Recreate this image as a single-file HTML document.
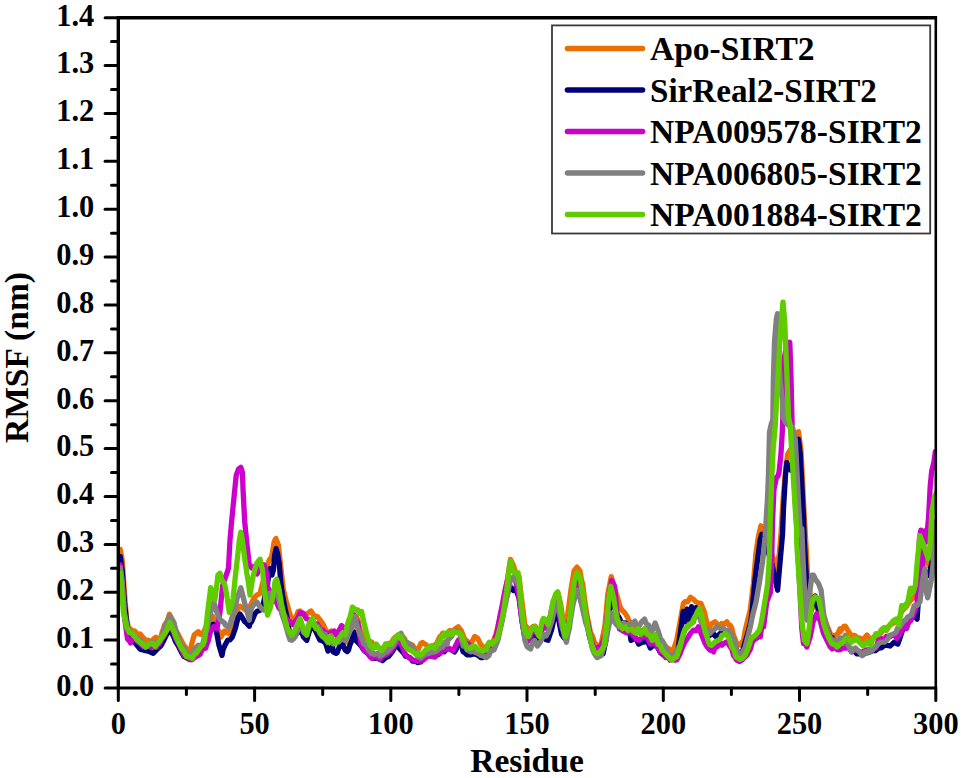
<!DOCTYPE html>
<html><head><meta charset="utf-8"><title>RMSF</title>
<style>html,body{margin:0;padding:0;background:#fff;overflow:hidden}body{width:962px;height:778px;font-family:"Liberation Serif",serif}</style>
</head><body>
<svg width="962" height="778" viewBox="0 0 962 778" style="display:block">
<rect width="962" height="778" fill="#fff"/>
<defs><clipPath id="pc"><rect x="118.3" y="0" width="817.5" height="688.0"/></clipPath></defs>
<g clip-path="url(#pc)"><path d="M120.3,549.5 L122.3,560.8 L124.4,591.7 L126.5,618.6 L128.4,627.2 L131.9,630.2 L133.3,631.5 L134.7,631.0 L138.5,635.3 L140.1,634.0 L143.6,638.2 L145.6,640.0 L148.8,640.3 L151.8,642.5 L153.7,638.8 L155.9,637.2 L160.3,640.3 L161.9,633.2 L163.3,629.1 L164.6,625.0 L167.3,621.1 L169.4,614.3 L173.7,622.5 L175.5,629.7 L177.8,633.8 L182.0,642.0 L183.7,645.2 L186.0,648.2 L190.2,651.3 L191.9,643.2 L194.3,634.8 L198.4,631.7 L200.1,634.2 L202.5,634.8 L205.5,627.8 L208.7,620.4 L210.9,619.0 L212.8,616.3 L216.9,628.7 L219.1,631.5 L221.0,636.9 L224.6,631.0 L225.1,632.8 L227.3,631.3 L229.3,634.0 L232.8,624.0 L235.4,615.5 L238.2,607.6 L240.1,606.3 L244.7,609.4 L246.4,610.7 L250.0,606.8 L251.8,602.2 L254.6,597.1 L256.7,595.2 L260.0,593.5 L263.4,580.1 L265.4,573.4 L266.7,566.8 L269.2,560.1 L271.7,556.7 L274.2,541.7 L275.9,538.4 L278.4,545.1 L280.9,568.4 L283.4,590.1 L284.5,593.6 L285.9,600.2 L287.2,604.6 L289.2,611.9 L292.6,621.9 L295.9,616.9 L298.1,611.6 L300.1,611.0 L303.4,613.5 L306.3,614.9 L307.6,613.5 L309.1,612.3 L311.0,611.0 L315.1,616.9 L317.2,616.4 L320.1,620.2 L322.7,623.6 L324.3,626.9 L325.4,629.5 L328.5,633.6 L330.0,631.7 L331.1,631.0 L333.1,634.8 L337.2,632.5 L337.7,637.9 L339.0,640.3 L342.3,639.4 L345.4,642.5 L347.2,636.4 L349.9,632.5 L351.6,628.6 L356.2,616.3 L358.1,620.5 L359.3,627.1 L360.8,631.8 L363.9,636.3 L366.3,637.8 L369.0,641.2 L370.1,644.0 L371.7,642.0 L373.2,644.0 L374.5,647.2 L377.8,647.1 L379.9,648.4 L382.4,648.6 L385.4,647.9 L387.1,644.0 L391.7,642.5 L393.5,638.9 L396.3,636.3 L399.0,636.2 L401.0,634.8 L404.4,638.4 L405.6,642.5 L407.2,643.6 L410.2,644.0 L412.6,645.1 L414.8,648.6 L417.9,650.2 L420.8,643.7 L422.5,642.5 L427.2,645.6 L429.0,647.4 L431.8,647.1 L434.4,645.1 L436.4,644.0 L440.0,636.4 L441.0,636.3 L442.6,633.2 L443.9,634.5 L445.7,634.8 L448.0,632.2 L449.6,630.6 L450.8,630.9 L453.5,630.5 L455.4,628.7 L458.3,626.8 L461.2,630.6 L465.1,640.3 L467.1,641.0 L468.9,644.1 L471.8,642.2 L474.7,636.4 L477.6,638.3 L480.5,644.1 L484.3,648.0 L486.2,647.7 L488.2,644.1 L492.1,644.1 L494.4,638.0 L495.9,634.5 L497.1,629.7 L499.8,619.1 L502.5,606.5 L503.6,601.7 L505.2,593.0 L507.5,578.5 L510.4,559.3 L513.3,565.1 L516.2,574.7 L519.1,576.6 L521.0,594.0 L524.9,624.8 L527.0,627.4 L528.7,630.6 L532.6,626.8 L535.2,626.1 L536.4,628.7 L538.0,630.3 L540.3,630.6 L544.1,621.0 L546.1,622.8 L548.0,622.9 L551.9,611.3 L554.3,599.7 L555.7,595.9 L557.7,592.1 L560.6,603.6 L563.5,622.9 L565.2,620.0 L567.4,617.1 L571.2,588.2 L574.1,570.8 L577.0,567.0 L579.9,570.8 L581.5,579.7 L582.8,584.3 L584.3,596.7 L586.6,613.3 L590.5,632.6 L592.5,636.2 L594.4,642.2 L597.2,646.1 L601.1,644.1 L603.4,633.6 L605.0,624.8 L606.1,613.0 L607.8,594.0 L611.3,576.6 L614.6,588.2 L617.5,597.8 L619.7,605.5 L621.4,609.4 L625.2,613.3 L627.9,618.0 L629.1,621.0 L630.6,622.2 L632.9,626.8 L636.8,628.7 L638.8,630.6 L640.7,630.6 L644.5,630.6 L646.9,633.9 L648.4,632.6 L649.7,630.9 L652.2,634.5 L656.1,636.4 L657.9,636.8 L660.6,644.7 L661.9,644.1 L663.3,644.6 L665.7,646.1 L666.7,647.7 L668.8,648.4 L670.0,650.2 L671.5,650.7 L673.4,650.2 L676.7,640.2 L680.1,621.8 L683.4,603.4 L685.1,601.7 L687.6,601.8 L690.5,597.2 L691.7,598.4 L693.3,599.2 L695.9,601.8 L698.7,603.2 L700.9,603.4 L704.3,611.8 L706.9,622.7 L708.5,626.8 L709.6,626.8 L711.8,623.5 L715.1,621.8 L718.5,625.2 L720.5,625.8 L721.8,623.5 L723.2,624.9 L726.8,621.8 L728.7,625.1 L730.2,625.2 L731.4,627.3 L733.5,635.2 L736.8,643.5 L740.2,645.2 L742.3,641.9 L743.6,640.2 L745.0,631.2 L746.9,623.5 L750.2,610.1 L753.4,583.5 L755.9,553.4 L758.4,536.7 L760.9,525.8 L763.4,531.7 L767.6,545.1 L769.6,547.7 L772.6,556.8 L775.0,562.0 L776.8,568.4 L779.3,553.4 L781.0,533.4 L783.5,493.6 L786.0,466.8 L787.6,454.3 L790.1,450.1 L791.4,449.0 L792.7,443.4 L794.1,437.1 L796.0,433.4 L798.5,431.8 L801.0,450.1 L802.7,483.6 L804.3,517.0 L806.0,545.1 L807.7,578.5 L810.2,595.2 L813.2,604.1 L815.2,606.9 L818.6,610.1 L820.2,613.5 L821.4,613.4 L824.1,617.9 L825.2,620.3 L826.8,624.9 L830.3,633.6 L832.2,636.3 L835.3,635.3 L837.7,633.9 L840.0,628.7 L840.3,631.9 L843.9,626.3 L845.3,626.2 L847.7,630.2 L851.6,635.9 L854.0,635.3 L855.4,635.9 L856.8,637.8 L859.3,637.9 L863.1,639.8 L864.9,637.4 L867.0,635.0 L870.8,640.3 L873.1,639.1 L874.7,636.4 L875.9,637.4 L878.5,634.5 L881.3,632.7 L882.4,630.6 L884.0,628.7 L886.3,628.7 L890.1,624.8 L892.2,623.9 L894.0,622.9 L897.8,621.0 L900.4,615.1 L901.7,611.3 L903.1,610.0 L905.6,607.5 L909.4,601.7 L911.3,599.6 L913.3,597.8 L917.1,594.0 L919.4,575.5 L922.2,564.2 L923.5,558.7 L924.9,560.6 L926.8,562.6 L929.3,565.9 L930.4,558.4 L931.7,553.9 L933.9,539.6 L935.8,530.0" fill="none" stroke="#eb6f00" stroke-width="5.3" stroke-linejoin="round" stroke-linecap="round"/><path d="M120.3,556.7 L122.3,571.1 L124.4,602.0 L127.5,628.7 L129.2,633.6 L130.6,634.8 L131.9,636.3 L134.7,642.3 L136.7,644.9 L140.1,649.2 L142.9,650.0 L145.6,650.6 L149.1,651.3 L151.0,652.3 L153.2,653.3 L157.3,649.2 L159.2,647.4 L161.4,645.1 L165.5,636.9 L167.3,633.4 L169.6,628.7 L173.7,636.9 L175.5,641.6 L177.8,645.1 L182.0,653.3 L183.7,656.3 L186.0,657.5 L190.2,659.5 L191.9,657.7 L194.3,657.5 L198.4,651.3 L200.1,649.6 L202.5,645.1 L205.5,638.3 L206.6,636.9 L208.2,630.7 L210.7,624.6 L213.7,624.3 L214.8,626.6 L216.4,631.6 L218.9,645.1 L222.0,655.4 L223.1,649.5 L225.1,645.1 L227.7,640.2 L230.0,639.9 L232.3,637.1 L235.5,627.9 L237.0,621.7 L238.2,617.5 L240.1,614.0 L244.7,621.7 L246.4,623.0 L249.3,626.3 L250.0,623.5 L251.8,621.3 L255.0,613.5 L257.3,611.2 L260.0,610.2 L263.4,603.5 L265.4,593.4 L266.7,590.1 L268.7,575.1 L270.4,568.4 L272.0,575.1 L273.4,570.1 L274.7,555.1 L276.1,548.7 L277.5,553.4 L279.2,563.4 L280.9,583.5 L282.6,595.2 L285.1,608.5 L287.6,620.2 L290.1,636.9 L293.4,638.6 L295.4,634.0 L296.8,633.6 L298.1,632.2 L300.1,626.9 L303.4,636.9 L306.8,640.3 L310.1,628.6 L311.8,628.7 L313.5,626.9 L316.8,633.6 L319.9,640.1 L321.8,640.3 L325.4,642.8 L326.8,646.9 L328.0,651.0 L330.0,648.6 L332.6,646.4 L333.1,651.8 L336.2,653.3 L337.2,652.6 L339.2,647.1 L342.3,644.0 L345.4,650.2 L347.2,651.6 L348.5,650.2 L349.9,644.9 L351.6,640.9 L353.9,631.7 L356.2,640.9 L358.1,642.7 L359.3,644.0 L360.8,645.6 L363.9,650.2 L366.3,652.4 L369.0,653.7 L370.1,656.4 L371.7,656.3 L374.5,658.4 L376.3,657.9 L380.9,659.5 L382.6,660.7 L385.5,657.9 L388.6,656.4 L390.8,653.6 L393.3,650.2 L396.2,644.2 L397.9,644.0 L399.0,648.0 L401.0,650.2 L404.4,654.0 L405.6,656.4 L407.2,656.3 L410.2,657.9 L412.6,661.1 L414.8,661.0 L417.9,662.5 L420.8,662.0 L422.5,659.5 L427.2,656.4 L429.0,655.5 L431.8,656.4 L434.4,656.0 L438.0,654.8 L440.0,651.9 L442.6,651.0 L443.9,649.9 L444.2,651.8 L445.3,650.7 L447.7,648.0 L451.6,649.9 L454.5,651.9 L456.2,649.1 L457.3,644.1 L459.3,640.3 L461.7,646.4 L463.1,651.9 L464.4,652.4 L467.0,654.8 L470.9,654.8 L472.6,654.2 L474.7,653.8 L478.6,655.7 L480.7,657.6 L482.4,657.6 L486.3,655.7 L488.9,651.6 L490.2,651.9 L491.6,648.8 L494.0,648.0 L497.9,636.4 L499.8,628.5 L501.7,621.0 L505.6,599.8 L508.0,592.1 L509.4,584.3 L510.7,588.2 L512.3,589.2 L513.4,590.5 L515.2,588.2 L519.1,597.8 L522.0,621.0 L524.9,638.3 L527.0,641.5 L528.7,640.3 L532.6,636.4 L535.2,637.0 L536.4,638.3 L538.0,638.1 L540.3,638.3 L544.1,636.4 L546.1,639.8 L548.0,640.3 L551.9,628.7 L554.3,617.0 L555.7,613.3 L557.7,613.3 L559.6,624.8 L561.6,634.5 L564.5,638.3 L568.3,626.8 L570.6,613.7 L572.2,605.6 L573.4,598.3 L576.0,584.3 L578.9,580.5 L581.8,594.0 L584.3,607.9 L585.7,617.1 L587.0,622.8 L589.5,636.4 L593.4,649.9 L595.2,651.9 L598.2,655.7 L600.6,652.4 L603.1,653.8 L605.9,640.3 L608.8,613.3 L611.7,595.9 L614.2,606.8 L616.5,613.3 L619.7,618.7 L621.4,622.9 L625.2,622.9 L627.9,625.1 L629.1,628.7 L631.0,640.3 L633.3,639.2 L634.9,638.3 L636.0,638.6 L638.7,644.1 L642.6,642.2 L644.2,642.1 L646.4,638.3 L650.3,648.0 L652.4,646.3 L654.1,644.1 L658.0,648.0 L660.6,652.9 L661.9,653.8 L663.3,655.0 L665.7,655.7 L668.3,656.9 L671.5,656.0 L673.4,656.9 L676.9,651.5 L678.4,646.9 L679.6,638.2 L681.0,628.2 L683.2,611.4 L685.1,621.9 L687.3,609.0 L689.5,619.5 L691.6,606.6 L693.8,617.1 L696.0,607.6 L698.7,613.8 L701.4,621.0 L704.2,630.5 L706.8,631.8 L710.1,635.2 L712.4,632.4 L713.5,633.5 L715.1,636.1 L716.8,636.9 L720.1,633.5 L723.5,631.8 L726.0,633.6 L728.5,631.8 L731.4,636.3 L733.5,643.5 L736.9,650.0 L738.5,653.6 L741.9,653.6 L745.2,641.9 L748.6,630.2 L750.5,622.7 L751.9,613.5 L753.2,598.5 L755.1,578.5 L758.4,553.4 L760.1,540.1 L761.8,534.2 L764.3,538.4 L767.6,548.4 L769.6,557.2 L771.8,563.4 L775.1,578.5 L777.6,590.2 L780.1,561.8 L782.6,533.4 L783.5,508.6 L785.5,475.2 L786.8,462.6 L788.5,466.8 L791.0,470.2 L793.5,463.5 L796.0,450.1 L798.5,439.3 L800.2,453.5 L801.8,483.6 L803.5,517.0 L804.3,540.1 L806.0,570.1 L807.7,606.9 L810.2,613.5 L813.5,600.2 L815.2,596.0 L817.7,606.9 L821.1,616.9 L824.1,625.8 L825.2,627.0 L826.8,628.9 L830.3,637.0 L832.2,637.8 L835.0,641.1 L838.6,643.7 L840.4,642.7 L843.1,641.1 L845.3,640.3 L847.7,646.0 L851.6,651.8 L854.0,651.4 L855.4,650.8 L856.8,653.8 L859.3,653.8 L863.1,654.7 L864.9,652.5 L867.0,652.8 L870.8,651.8 L873.1,649.9 L874.7,650.8 L875.9,650.4 L878.5,648.0 L881.3,647.8 L882.4,647.0 L884.0,645.7 L886.3,645.1 L890.1,646.0 L892.2,644.1 L894.0,642.2 L897.8,644.1 L900.4,636.9 L901.7,632.6 L903.1,628.6 L905.6,626.8 L909.4,621.0 L911.3,616.2 L913.3,615.2 L917.1,619.1 L919.4,585.1 L922.2,575.6 L923.5,568.3 L924.9,571.9 L926.8,573.1 L929.3,575.5 L930.4,568.8 L931.7,563.5 L933.9,546.8 L935.8,532.4" fill="none" stroke="#000078" stroke-width="5.3" stroke-linejoin="round" stroke-linecap="round"/><path d="M120.3,565.0 L122.3,583.4 L124.4,616.3 L127.5,638.9 L129.2,640.4 L130.6,643.0 L131.9,638.8 L133.3,637.3 L134.7,638.6 L137.4,641.5 L140.1,643.7 L141.5,644.9 L142.8,646.3 L145.6,647.4 L148.3,644.2 L149.6,646.2 L151.0,647.5 L153.7,647.0 L156.4,647.3 L157.8,644.9 L159.2,644.1 L161.9,639.2 L164.6,635.3 L166.0,631.6 L167.3,629.7 L169.5,624.3 L173.6,632.2 L175.5,638.0 L178.0,642.9 L182.1,651.0 L183.7,654.8 L186.4,656.1 L189.2,659.1 L190.5,659.3 L191.9,659.8 L193.5,658.5 L194.6,657.5 L198.4,655.4 L200.1,654.3 L202.5,649.2 L205.5,648.3 L206.6,645.1 L208.2,640.9 L210.7,630.7 L213.8,626.6 L216.9,628.7 L220.0,612.2 L222.6,585.5 L224.6,579.5 L227.3,572.0 L228.5,568.0 L230.0,540.2 L231.6,521.7 L232.8,509.4 L233.9,498.5 L236.2,475.4 L238.5,469.2 L240.8,467.4 L242.4,472.4 L243.1,490.8 L244.7,521.7 L247.0,544.8 L249.3,564.9 L251.6,568.0 L253.9,566.4 L257.0,574.1 L260.1,568.0 L262.7,564.4 L264.0,564.9 L266.3,571.1 L267.8,587.7 L270.9,592.4 L273.6,597.3 L275.5,600.1 L279.1,608.2 L281.7,610.9 L284.5,614.8 L287.9,621.7 L290.0,621.5 L292.7,624.6 L294.0,624.8 L295.4,621.3 L298.1,617.5 L300.2,612.4 L303.6,613.8 L306.4,618.6 L309.1,619.7 L312.5,624.8 L314.5,623.9 L317.2,623.8 L318.7,626.3 L319.9,628.8 L322.7,630.1 L324.9,632.5 L328.0,634.0 L330.0,633.2 L333.1,631.7 L334.1,631.0 L336.2,634.8 L339.2,630.2 L341.6,625.5 L344.7,628.6 L347.2,631.6 L348.5,634.8 L349.9,628.1 L352.6,619.9 L353.9,614.7 L355.4,619.4 L357.8,622.5 L360.9,644.0 L363.9,650.2 L366.3,651.9 L368.6,654.8 L371.7,658.3 L373.2,657.2 L374.5,656.4 L377.8,657.9 L379.9,659.6 L382.4,656.4 L385.4,655.1 L387.1,654.1 L391.7,650.2 L393.5,647.3 L396.3,642.5 L398.6,640.2 L402.5,647.1 L404.4,652.8 L407.1,656.4 L409.9,658.3 L411.8,659.5 L416.4,661.0 L418.1,661.0 L421.0,661.0 L423.5,660.0 L425.6,657.9 L429.0,655.2 L431.8,656.4 L434.9,657.2 L437.1,653.9 L440.0,653.8 L441.0,651.8 L442.6,648.9 L443.9,649.9 L445.3,650.0 L447.2,647.1 L447.7,648.0 L451.6,649.9 L453.5,650.3 L455.4,646.1 L458.3,640.3 L461.2,638.3 L465.1,642.2 L467.1,643.8 L468.9,644.1 L472.8,648.0 L475.3,652.3 L476.6,651.9 L478.0,651.5 L480.5,653.8 L484.3,653.8 L486.2,653.1 L488.2,649.9 L492.1,648.0 L494.4,642.9 L495.9,636.4 L497.1,631.8 L499.8,617.1 L502.5,603.9 L503.6,597.8 L505.2,589.5 L507.5,580.5 L511.4,578.5 L513.4,578.7 L515.2,578.5 L519.1,597.8 L522.0,621.0 L524.9,636.4 L527.0,639.6 L528.7,640.3 L532.6,630.6 L535.2,631.1 L536.4,632.6 L538.0,635.5 L540.3,634.5 L544.1,624.8 L546.1,628.2 L548.0,628.7 L551.9,607.5 L554.3,600.5 L555.7,597.8 L557.7,607.5 L559.8,616.5 L561.6,626.8 L565.4,634.5 L567.9,627.7 L569.3,621.0 L570.6,613.9 L573.2,597.8 L577.0,584.3 L578.9,588.2 L581.5,594.7 L582.8,597.8 L584.3,604.6 L586.6,617.1 L590.5,636.4 L592.5,644.6 L594.4,648.0 L597.2,648.0 L601.1,646.1 L603.4,640.1 L605.9,632.6 L608.8,597.8 L611.7,580.5 L614.6,586.3 L617.5,617.1 L619.4,628.7 L622.3,630.6 L626.2,632.6 L627.9,633.0 L631.0,630.6 L633.3,636.1 L634.9,636.4 L636.0,639.2 L638.7,640.3 L642.6,636.4 L644.2,636.6 L646.4,634.5 L650.3,644.1 L652.4,643.3 L654.1,642.2 L658.0,648.0 L660.6,652.4 L661.9,651.9 L663.3,653.4 L665.7,657.6 L668.8,657.6 L670.0,660.2 L671.5,659.3 L675.0,660.2 L676.9,659.8 L680.1,653.6 L682.4,647.5 L685.1,641.9 L688.4,636.9 L690.5,633.3 L693.4,630.2 L696.0,630.8 L698.4,626.8 L701.8,635.2 L705.1,643.5 L706.9,646.5 L710.1,650.2 L712.4,650.6 L713.5,651.9 L715.1,647.3 L716.8,646.9 L720.5,643.6 L721.8,645.2 L723.2,643.9 L726.8,641.9 L728.7,644.2 L730.2,646.9 L731.4,647.8 L733.5,655.3 L736.8,660.2 L739.6,661.6 L741.9,660.2 L745.0,657.0 L746.9,655.3 L750.5,648.9 L751.9,643.5 L753.2,640.6 L756.1,638.5 L758.7,636.8 L760.3,636.9 L761.4,629.1 L763.4,613.5 L763.6,626.8 L766.8,601.9 L770.5,592.2 L771.5,568.3 L772.6,520.4 L774.0,489.3 L776.5,477.3 L777.8,476.4 L779.0,472.5 L781.0,453.4 L782.3,431.8 L783.0,410.3 L783.3,376.8 L784.0,360.0 L786.0,348.1 L788.6,343.9 L789.8,342.3 L791.0,376.8 L792.0,419.9 L793.0,463.0 L795.0,496.5 L797.0,530.0 L798.5,563.5 L800.0,592.2 L801.8,628.6 L803.5,643.7 L805.0,643.9 L806.9,647.0 L810.2,637.0 L813.5,620.3 L816.9,613.5 L818.6,618.8 L820.2,620.3 L821.4,625.6 L823.6,633.6 L826.8,640.0 L830.3,647.0 L832.2,648.9 L835.0,646.9 L836.9,649.5 L840.0,649.9 L843.1,647.8 L845.8,648.0 L848.6,646.7 L851.6,649.9 L854.0,649.8 L856.8,650.3 L859.3,651.8 L862.2,652.1 L864.9,650.4 L867.0,649.9 L870.4,649.4 L873.1,648.5 L874.7,648.0 L875.9,647.8 L878.5,640.3 L881.3,638.6 L882.4,640.3 L884.0,640.3 L886.3,636.4 L890.1,636.4 L892.2,635.6 L894.0,634.5 L896.9,638.3 L899.8,634.5 L903.6,624.8 L906.5,628.7 L908.5,622.5 L910.4,621.0 L913.3,615.2 L917.1,603.6 L919.4,538.7 L920.9,530.2 L921.0,588.2 L922.2,570.1 L924.8,531.0 L926.3,541.8 L928.6,517.1 L930.2,486.2 L931.7,470.8 L934.0,461.6 L935.3,451.6" fill="none" stroke="#cc00cc" stroke-width="5.3" stroke-linejoin="round" stroke-linecap="round"/><path d="M120.3,568.0 L122.3,583.4 L124.4,612.2 L127.5,628.7 L129.2,629.0 L130.6,632.8 L131.9,633.1 L133.3,635.2 L134.7,635.3 L137.4,639.3 L140.1,639.7 L141.5,642.8 L142.8,644.8 L145.6,645.3 L148.3,643.8 L149.6,644.0 L151.0,642.4 L153.7,644.9 L156.4,641.7 L157.8,642.8 L159.2,640.5 L161.9,637.0 L165.5,624.4 L167.3,622.3 L169.6,616.2 L173.7,622.4 L175.5,629.1 L177.8,636.9 L182.0,647.2 L183.7,647.0 L186.0,652.3 L190.2,654.3 L191.9,654.1 L194.3,649.2 L198.4,645.1 L200.1,646.0 L202.5,645.1 L205.5,632.5 L206.6,630.7 L208.2,623.7 L210.7,612.2 L213.8,602.0 L216.9,612.2 L219.1,618.1 L221.0,620.4 L224.6,623.2 L225.1,624.6 L227.3,626.4 L229.3,626.3 L232.8,615.1 L233.9,614.0 L235.5,606.9 L237.0,598.6 L238.2,595.5 L240.8,587.7 L244.7,603.2 L246.4,608.8 L249.3,620.2 L250.0,613.5 L251.8,607.5 L253.4,605.2 L254.6,604.0 L256.7,601.8 L260.0,606.8 L263.4,610.2 L265.4,610.1 L266.7,606.8 L269.2,593.5 L271.7,593.5 L274.2,591.8 L276.7,590.1 L279.2,600.2 L281.7,613.5 L285.1,623.5 L287.2,630.8 L288.4,635.2 L290.0,639.8 L291.7,640.3 L295.1,636.9 L298.4,628.6 L301.8,626.9 L303.6,632.5 L305.1,633.6 L306.3,632.0 L308.5,625.2 L311.8,620.2 L315.1,625.2 L317.2,626.4 L320.1,630.2 L322.7,633.8 L325.4,634.6 L326.8,636.9 L328.1,640.8 L330.0,642.5 L331.1,635.6 L333.1,644.0 L337.2,640.2 L337.7,640.9 L339.0,641.9 L342.3,637.9 L344.5,640.2 L347.0,637.9 L349.9,631.0 L351.6,628.6 L354.7,616.3 L357.8,628.6 L360.9,636.3 L363.9,644.0 L366.3,645.5 L368.6,650.2 L371.7,653.7 L373.2,653.3 L374.5,654.5 L377.8,653.3 L379.9,656.3 L382.4,654.8 L385.4,652.2 L387.1,651.8 L391.7,647.1 L393.5,645.0 L396.3,639.4 L399.0,637.6 L401.0,633.2 L404.0,640.9 L407.2,642.3 L408.7,644.0 L409.9,644.8 L413.3,648.6 L415.3,652.3 L417.9,656.4 L420.8,658.1 L422.5,656.4 L426.2,653.9 L428.7,653.3 L431.7,652.3 L434.9,651.8 L437.1,650.4 L440.0,648.0 L441.0,647.1 L442.6,647.1 L443.9,644.1 L445.3,642.0 L447.2,644.0 L447.7,640.3 L451.6,636.4 L453.5,631.8 L455.4,630.6 L459.3,632.6 L461.7,639.9 L463.1,646.1 L464.4,644.9 L467.0,649.9 L470.9,651.9 L472.6,651.5 L474.7,651.9 L478.6,653.8 L480.7,655.6 L482.4,655.7 L486.3,657.6 L488.9,655.6 L490.2,651.9 L491.6,650.6 L494.0,649.9 L497.9,640.3 L499.8,631.5 L501.7,622.9 L505.6,603.6 L508.0,591.9 L509.4,584.3 L510.7,579.4 L512.3,578.5 L513.4,576.9 L515.2,578.5 L519.1,586.3 L522.0,617.1 L524.9,640.3 L527.0,646.5 L528.7,648.0 L530.6,649.0 L532.5,643.0 L534.5,640.3 L537.4,646.1 L540.3,642.2 L544.1,634.5 L546.1,635.9 L548.0,632.6 L551.9,621.0 L554.3,609.3 L555.7,603.6 L557.7,603.6 L560.6,617.1 L562.5,627.4 L564.5,636.4 L566.4,642.2 L567.9,634.0 L569.3,628.7 L570.6,618.8 L573.2,603.6 L577.0,590.1 L578.9,594.0 L581.8,605.6 L584.3,616.4 L585.7,622.9 L587.0,626.4 L590.5,640.3 L592.5,649.3 L594.4,653.8 L597.2,657.6 L601.1,655.7 L603.4,648.2 L605.0,644.1 L606.1,640.8 L607.8,630.6 L611.7,613.3 L613.7,621.0 L616.5,624.8 L619.4,626.8 L623.3,622.9 L625.1,624.1 L627.1,624.8 L631.0,622.9 L633.3,622.6 L634.9,621.0 L636.0,624.9 L638.7,626.8 L641.5,621.9 L644.5,619.1 L646.9,624.7 L648.4,624.8 L649.7,628.0 L652.2,630.6 L655.1,622.9 L658.0,630.6 L660.6,639.1 L661.9,640.3 L663.3,642.4 L665.7,648.0 L668.3,653.6 L671.5,656.6 L673.4,656.9 L676.7,650.2 L679.6,646.1 L681.8,639.3 L685.1,629.6 L688.4,625.3 L691.6,623.1 L693.3,622.2 L694.9,616.7 L696.0,615.8 L697.6,611.2 L698.7,613.9 L701.4,623.0 L702.6,623.5 L704.2,628.3 L706.8,630.2 L710.1,633.5 L712.4,630.5 L713.5,630.2 L715.1,628.4 L716.8,626.8 L720.1,628.5 L723.5,628.5 L726.0,631.1 L728.5,630.2 L731.4,635.9 L733.5,638.5 L736.9,650.4 L738.5,653.6 L741.9,653.6 L745.2,646.9 L748.6,633.5 L750.5,626.1 L752.7,615.1 L756.1,601.8 L759.2,583.5 L761.4,569.7 L762.6,561.8 L765.1,536.7 L767.6,496.5 L768.5,472.5 L769.5,431.8 L771.5,423.2 L772.8,419.9 L773.3,381.6 L774.5,341.4 L776.3,319.3 L777.5,313.6 L778.3,333.7 L779.0,362.4 L780.5,384.0 L782.3,398.3 L783.2,417.5 L785.5,422.3 L788.6,425.3 L790.0,424.7 L791.4,427.4 L792.5,427.1 L795.2,439.0 L797.0,472.5 L798.7,506.1 L800.5,534.8 L801.8,528.7 L803.5,570.1 L805.2,603.5 L806.9,620.3 L809.4,595.2 L810.4,587.1 L811.9,575.2 L813.5,575.2 L816.0,580.1 L818.5,583.5 L821.1,590.2 L823.6,613.5 L826.9,628.6 L829.5,635.7 L831.9,640.3 L835.0,640.0 L838.6,640.3 L840.4,637.8 L843.9,638.3 L845.3,635.3 L847.7,644.1 L851.6,651.8 L854.0,648.6 L855.4,648.0 L856.8,649.6 L859.3,651.8 L862.2,655.7 L865.1,651.8 L867.7,652.9 L868.9,649.9 L870.4,651.4 L872.8,649.9 L876.6,646.0 L878.6,643.4 L880.5,642.2 L884.4,642.2 L886.8,640.2 L888.2,638.3 L889.5,635.4 L892.1,634.5 L895.9,632.6 L897.6,628.0 L899.8,626.8 L903.6,621.0 L905.8,619.8 L907.5,617.1 L911.3,615.2 L914.2,605.6 L917.1,605.6 L920.0,601.7 L922.9,578.5 L924.8,568.9 L926.8,594.0 L927.7,597.8 L929.6,588.2 L931.6,578.5 L933.5,559.3 L935.3,521.7" fill="none" stroke="#808080" stroke-width="5.3" stroke-linejoin="round" stroke-linecap="round"/><path d="M120.3,573.2 L121.3,587.6 L123.4,612.2 L126.4,626.6 L129.2,632.4 L130.6,632.8 L131.9,633.3 L134.7,636.4 L136.7,639.3 L140.1,642.2 L142.9,644.4 L145.6,647.1 L147.0,646.5 L148.3,644.1 L151.1,643.4 L153.7,643.9 L155.2,646.5 L156.4,644.9 L159.3,641.3 L161.9,637.5 L163.5,635.2 L164.6,634.0 L167.3,629.5 L169.6,622.5 L173.7,630.7 L175.5,635.8 L177.8,641.0 L182.0,649.2 L183.7,650.8 L186.4,656.5 L188.1,656.4 L192.2,658.5 L194.6,654.1 L196.3,653.3 L200.4,647.2 L202.8,644.9 L204.5,641.0 L207.6,612.2 L210.7,587.6 L212.8,591.7 L214.8,599.9 L216.4,588.0 L217.9,575.2 L220.0,573.2 L221.8,580.4 L223.0,581.4 L224.6,584.1 L226.1,591.7 L227.3,598.9 L229.3,612.4 L233.1,598.6 L235.4,575.7 L237.7,555.6 L239.3,540.2 L240.8,532.2 L242.4,540.2 L244.7,558.7 L247.0,574.1 L248.5,583.1 L250.0,595.2 L251.8,583.3 L253.4,575.1 L254.6,570.3 L256.7,563.4 L260.0,559.2 L262.5,570.1 L265.0,595.2 L267.5,615.2 L270.1,608.5 L272.5,598.5 L273.6,592.4 L275.0,581.8 L276.7,579.3 L279.2,590.1 L281.7,605.2 L285.1,620.2 L287.2,627.5 L288.4,630.2 L290.0,632.6 L291.7,635.2 L295.1,630.2 L298.4,621.9 L300.1,618.5 L303.4,628.6 L306.8,635.2 L310.1,621.9 L312.6,618.5 L314.5,626.0 L316.0,628.6 L317.2,627.9 L320.1,633.6 L322.7,636.7 L325.2,638.6 L328.1,642.6 L329.3,641.9 L330.0,636.3 L331.1,637.1 L333.1,640.9 L335.7,643.3 L336.2,642.5 L339.2,637.9 L342.3,633.2 L345.4,634.8 L347.2,625.3 L348.5,620.9 L349.9,617.6 L352.4,607.0 L356.2,610.1 L358.1,610.0 L359.3,613.2 L361.6,611.6 L363.9,622.5 L367.0,634.8 L369.0,641.9 L370.1,645.6 L371.7,646.9 L373.2,648.6 L374.5,647.5 L376.3,644.0 L379.4,648.6 L382.4,650.2 L385.5,644.0 L388.6,644.0 L391.7,644.0 L393.5,640.5 L394.8,637.9 L396.2,637.9 L397.9,634.8 L399.0,637.6 L401.0,636.3 L404.0,644.0 L407.1,648.6 L410.2,650.2 L413.3,651.8 L416.4,654.8 L418.1,653.1 L419.5,654.8 L420.8,655.4 L422.5,653.3 L425.6,650.2 L428.7,647.1 L431.8,645.6 L434.9,648.6 L438.0,642.5 L440.0,642.2 L441.0,637.9 L442.6,635.7 L443.9,636.4 L444.2,633.2 L445.3,635.2 L447.2,634.8 L447.7,632.6 L451.6,634.5 L453.5,631.3 L455.4,632.6 L459.3,632.6 L461.7,635.4 L463.1,640.3 L464.4,641.6 L467.0,648.0 L470.9,648.0 L472.6,645.9 L474.7,646.1 L478.6,649.9 L480.7,650.1 L482.4,650.9 L486.3,649.9 L489.2,642.2 L492.1,644.1 L494.4,640.8 L495.9,640.3 L497.1,638.7 L499.8,628.7 L502.5,616.5 L503.6,611.3 L505.2,599.8 L506.5,592.1 L508.5,574.7 L510.4,561.2 L512.9,570.8 L516.2,573.8 L518.1,572.8 L520.0,588.2 L522.0,613.3 L524.9,630.6 L527.0,635.4 L528.7,636.4 L531.6,628.7 L534.5,626.8 L537.4,632.6 L539.3,636.4 L540.7,628.2 L542.2,621.0 L543.4,618.4 L545.1,619.1 L548.0,624.8 L550.9,613.3 L552.8,601.7 L554.3,598.2 L555.7,594.0 L557.7,592.1 L557.7,592.1 L559.6,601.7 L561.6,617.1 L563.5,630.6 L565.4,636.4 L568.3,626.8 L571.2,607.5 L574.1,582.4 L577.0,572.8 L579.9,576.6 L581.5,587.0 L582.8,594.0 L584.3,604.0 L585.7,613.3 L587.0,621.4 L588.6,630.6 L589.7,633.6 L591.5,644.1 L594.4,651.9 L597.2,653.8 L600.1,651.9 L604.0,646.1 L606.9,622.9 L608.8,597.8 L610.8,586.3 L613.7,597.8 L616.5,617.1 L619.4,624.8 L622.3,628.7 L625.2,626.8 L628.1,630.6 L631.0,628.7 L633.3,631.6 L634.9,632.6 L636.0,633.2 L637.8,628.7 L640.7,634.5 L644.5,628.7 L646.9,634.3 L648.4,634.5 L649.7,635.4 L652.2,640.3 L655.1,634.5 L658.0,644.1 L660.6,645.6 L661.9,649.9 L663.3,651.4 L665.7,653.8 L666.7,655.3 L668.8,657.3 L671.7,660.2 L674.2,658.3 L676.7,656.9 L680.1,646.9 L683.4,633.5 L685.1,628.9 L686.7,626.8 L687.8,627.4 L690.5,623.8 L691.7,623.5 L693.3,620.2 L695.9,615.1 L699.3,608.5 L701.8,616.8 L705.1,631.8 L706.9,636.6 L708.5,641.9 L709.6,644.6 L711.8,645.2 L715.1,641.9 L718.5,640.2 L720.5,638.7 L721.8,635.2 L723.2,635.2 L725.2,633.5 L728.5,636.9 L731.8,646.9 L734.1,650.4 L736.0,656.9 L740.2,659.4 L742.3,658.4 L745.2,655.3 L748.6,646.9 L750.5,640.6 L751.9,636.9 L753.2,637.1 L755.2,635.2 L759.4,630.2 L761.4,622.2 L763.4,610.2 L765.9,595.2 L767.6,583.9 L769.3,558.7 L770.3,520.4 L771.8,477.3 L773.2,448.6 L775.3,424.7 L777.5,386.4 L779.7,343.3 L782.9,302.1 L783.1,302.1 L784.8,323.4 L786.5,365.2 L788.5,417.0 L790.1,425.1 L791.4,445.5 L792.7,466.8 L795.2,508.6 L796.5,527.0 L796.8,545.1 L798.5,570.1 L800.2,595.2 L801.8,620.3 L804.3,640.3 L806.9,643.7 L809.4,627.0 L810.4,616.0 L811.9,603.5 L813.2,599.6 L815.2,596.8 L818.5,598.5 L821.1,610.2 L823.6,623.6 L826.9,633.6 L829.5,639.5 L831.9,643.7 L835.0,644.8 L836.9,647.0 L840.0,644.1 L843.6,642.0 L843.9,640.3 L845.9,638.4 L847.7,638.3 L851.6,642.2 L854.0,639.0 L855.4,640.3 L856.8,638.7 L859.3,642.2 L863.1,646.0 L864.9,644.6 L867.0,642.2 L870.8,645.1 L873.1,637.6 L874.7,636.4 L875.9,633.6 L878.5,634.5 L881.3,629.9 L882.4,628.7 L884.0,627.6 L886.3,630.6 L890.1,624.8 L893.0,621.0 L895.9,619.1 L897.6,622.6 L898.8,624.8 L900.4,614.6 L901.7,605.6 L903.1,607.7 L904.6,607.5 L905.8,604.0 L907.5,603.6 L910.4,588.2 L913.3,592.1 L915.4,585.1 L917.5,558.7 L920.0,535.7 L923.0,543.4 L925.7,551.5 L928.2,558.7 L930.1,544.4 L932.0,510.8 L933.1,505.3 L934.4,496.5 L935.8,494.1" fill="none" stroke="#60cc00" stroke-width="5.3" stroke-linejoin="round" stroke-linecap="round"/></g>
<g><line x1="116.8" y1="17.7" x2="937.1" y2="17.7" stroke="#000" stroke-width="3.4"/><line x1="935.8" y1="17.7" x2="935.8" y2="688.0" stroke="#000" stroke-width="2.6"/><line x1="118.3" y1="16.2" x2="118.3" y2="689.5" stroke="#000" stroke-width="3.4"/><line x1="118.3" y1="688.0" x2="937.1" y2="688.0" stroke="#000" stroke-width="2.8"/><line x1="105.1" y1="688.0" x2="118.3" y2="688.0" stroke="#000" stroke-width="3" stroke-linecap="round"/><line x1="111.5" y1="664.1" x2="118.3" y2="664.1" stroke="#000" stroke-width="3" stroke-linecap="round"/><line x1="105.1" y1="640.1" x2="118.3" y2="640.1" stroke="#000" stroke-width="3" stroke-linecap="round"/><line x1="111.5" y1="616.2" x2="118.3" y2="616.2" stroke="#000" stroke-width="3" stroke-linecap="round"/><line x1="105.1" y1="592.2" x2="118.3" y2="592.2" stroke="#000" stroke-width="3" stroke-linecap="round"/><line x1="111.5" y1="568.3" x2="118.3" y2="568.3" stroke="#000" stroke-width="3" stroke-linecap="round"/><line x1="105.1" y1="544.4" x2="118.3" y2="544.4" stroke="#000" stroke-width="3" stroke-linecap="round"/><line x1="111.5" y1="520.4" x2="118.3" y2="520.4" stroke="#000" stroke-width="3" stroke-linecap="round"/><line x1="105.1" y1="496.5" x2="118.3" y2="496.5" stroke="#000" stroke-width="3" stroke-linecap="round"/><line x1="111.5" y1="472.5" x2="118.3" y2="472.5" stroke="#000" stroke-width="3" stroke-linecap="round"/><line x1="105.1" y1="448.6" x2="118.3" y2="448.6" stroke="#000" stroke-width="3" stroke-linecap="round"/><line x1="111.5" y1="424.7" x2="118.3" y2="424.7" stroke="#000" stroke-width="3" stroke-linecap="round"/><line x1="105.1" y1="400.7" x2="118.3" y2="400.7" stroke="#000" stroke-width="3" stroke-linecap="round"/><line x1="111.5" y1="376.8" x2="118.3" y2="376.8" stroke="#000" stroke-width="3" stroke-linecap="round"/><line x1="105.1" y1="352.8" x2="118.3" y2="352.8" stroke="#000" stroke-width="3" stroke-linecap="round"/><line x1="111.5" y1="328.9" x2="118.3" y2="328.9" stroke="#000" stroke-width="3" stroke-linecap="round"/><line x1="105.1" y1="305.0" x2="118.3" y2="305.0" stroke="#000" stroke-width="3" stroke-linecap="round"/><line x1="111.5" y1="281.0" x2="118.3" y2="281.0" stroke="#000" stroke-width="3" stroke-linecap="round"/><line x1="105.1" y1="257.1" x2="118.3" y2="257.1" stroke="#000" stroke-width="3" stroke-linecap="round"/><line x1="111.5" y1="233.2" x2="118.3" y2="233.2" stroke="#000" stroke-width="3" stroke-linecap="round"/><line x1="105.1" y1="209.2" x2="118.3" y2="209.2" stroke="#000" stroke-width="3" stroke-linecap="round"/><line x1="111.5" y1="185.3" x2="118.3" y2="185.3" stroke="#000" stroke-width="3" stroke-linecap="round"/><line x1="105.1" y1="161.3" x2="118.3" y2="161.3" stroke="#000" stroke-width="3" stroke-linecap="round"/><line x1="111.5" y1="137.4" x2="118.3" y2="137.4" stroke="#000" stroke-width="3" stroke-linecap="round"/><line x1="105.1" y1="113.5" x2="118.3" y2="113.5" stroke="#000" stroke-width="3" stroke-linecap="round"/><line x1="111.5" y1="89.5" x2="118.3" y2="89.5" stroke="#000" stroke-width="3" stroke-linecap="round"/><line x1="105.1" y1="65.6" x2="118.3" y2="65.6" stroke="#000" stroke-width="3" stroke-linecap="round"/><line x1="111.5" y1="41.6" x2="118.3" y2="41.6" stroke="#000" stroke-width="3" stroke-linecap="round"/><line x1="105.1" y1="17.7" x2="118.3" y2="17.7" stroke="#000" stroke-width="3" stroke-linecap="round"/><line x1="118.3" y1="688.0" x2="118.3" y2="700.6" stroke="#000" stroke-width="3" stroke-linecap="round"/><line x1="186.4" y1="688.0" x2="186.4" y2="694.6" stroke="#000" stroke-width="3" stroke-linecap="round"/><line x1="254.6" y1="688.0" x2="254.6" y2="700.6" stroke="#000" stroke-width="3" stroke-linecap="round"/><line x1="322.7" y1="688.0" x2="322.7" y2="694.6" stroke="#000" stroke-width="3" stroke-linecap="round"/><line x1="390.8" y1="688.0" x2="390.8" y2="700.6" stroke="#000" stroke-width="3" stroke-linecap="round"/><line x1="458.9" y1="688.0" x2="458.9" y2="694.6" stroke="#000" stroke-width="3" stroke-linecap="round"/><line x1="527.0" y1="688.0" x2="527.0" y2="700.6" stroke="#000" stroke-width="3" stroke-linecap="round"/><line x1="595.2" y1="688.0" x2="595.2" y2="694.6" stroke="#000" stroke-width="3" stroke-linecap="round"/><line x1="663.3" y1="688.0" x2="663.3" y2="700.6" stroke="#000" stroke-width="3" stroke-linecap="round"/><line x1="731.4" y1="688.0" x2="731.4" y2="694.6" stroke="#000" stroke-width="3" stroke-linecap="round"/><line x1="799.5" y1="688.0" x2="799.5" y2="700.6" stroke="#000" stroke-width="3" stroke-linecap="round"/><line x1="867.7" y1="688.0" x2="867.7" y2="694.6" stroke="#000" stroke-width="3" stroke-linecap="round"/><line x1="935.8" y1="688.0" x2="935.8" y2="700.6" stroke="#000" stroke-width="3" stroke-linecap="round"/></g>
<g font-family="'Liberation Serif', serif" font-weight="bold" fill="#000"><rect x="552" y="25.4" width="378.2" height="208.1" fill="#fff" stroke="#3a3a3a" stroke-width="1.8"/><line x1="567.5" y1="48.5" x2="642.5" y2="48.5" stroke="#eb6f00" stroke-width="5.6" stroke-linecap="round"/><text x="650" y="60.3" font-size="33.5">Apo-SIRT2</text><line x1="567.5" y1="90.0" x2="642.5" y2="90.0" stroke="#000078" stroke-width="5.6" stroke-linecap="round"/><text x="650" y="101.8" font-size="33.5" textLength="226.9" lengthAdjust="spacingAndGlyphs">SirReal2-SIRT2</text><line x1="567.5" y1="131.5" x2="642.5" y2="131.5" stroke="#cc00cc" stroke-width="5.6" stroke-linecap="round"/><text x="650" y="143.3" font-size="33.5">NPA009578-SIRT2</text><line x1="567.5" y1="173.0" x2="642.5" y2="173.0" stroke="#808080" stroke-width="5.6" stroke-linecap="round"/><text x="650" y="184.8" font-size="33.5">NPA006805-SIRT2</text><line x1="567.5" y1="214.5" x2="642.5" y2="214.5" stroke="#60cc00" stroke-width="5.6" stroke-linecap="round"/><text x="650" y="226.3" font-size="33.5">NPA001884-SIRT2</text></g>
<g font-family="'Liberation Serif', serif" font-weight="bold" fill="#000"><text transform="translate(94.3,695.8) scale(0.965,1)" text-anchor="end" font-size="31.5">0.0</text><text transform="translate(94.3,647.9) scale(0.965,1)" text-anchor="end" font-size="31.5">0.1</text><text transform="translate(94.3,600.0) scale(0.965,1)" text-anchor="end" font-size="31.5">0.2</text><text transform="translate(94.3,552.2) scale(0.965,1)" text-anchor="end" font-size="31.5">0.3</text><text transform="translate(94.3,504.3) scale(0.965,1)" text-anchor="end" font-size="31.5">0.4</text><text transform="translate(94.3,456.4) scale(0.965,1)" text-anchor="end" font-size="31.5">0.5</text><text transform="translate(94.3,408.5) scale(0.965,1)" text-anchor="end" font-size="31.5">0.6</text><text transform="translate(94.3,360.6) scale(0.965,1)" text-anchor="end" font-size="31.5">0.7</text><text transform="translate(94.3,312.8) scale(0.965,1)" text-anchor="end" font-size="31.5">0.8</text><text transform="translate(94.3,264.9) scale(0.965,1)" text-anchor="end" font-size="31.5">0.9</text><text transform="translate(94.3,217.0) scale(0.965,1)" text-anchor="end" font-size="31.5">1.0</text><text transform="translate(94.3,169.1) scale(0.965,1)" text-anchor="end" font-size="31.5">1.1</text><text transform="translate(94.3,121.3) scale(0.965,1)" text-anchor="end" font-size="31.5">1.2</text><text transform="translate(94.3,73.4) scale(0.965,1)" text-anchor="end" font-size="31.5">1.3</text><text transform="translate(94.3,25.5) scale(0.965,1)" text-anchor="end" font-size="31.5">1.4</text><text transform="translate(118.3,734) scale(0.965,1)" text-anchor="middle" font-size="31.5">0</text><text transform="translate(254.6,734) scale(0.965,1)" text-anchor="middle" font-size="31.5">50</text><text transform="translate(390.8,734) scale(0.965,1)" text-anchor="middle" font-size="31.5">100</text><text transform="translate(527.0,734) scale(0.965,1)" text-anchor="middle" font-size="31.5">150</text><text transform="translate(663.3,734) scale(0.965,1)" text-anchor="middle" font-size="31.5">200</text><text transform="translate(799.5,734) scale(0.965,1)" text-anchor="middle" font-size="31.5">250</text><text transform="translate(935.8,734) scale(0.965,1)" text-anchor="middle" font-size="31.5">300</text><text x="527" y="772" text-anchor="middle" font-size="33.5">Residue</text><text transform="translate(28,357.5) rotate(-90)" text-anchor="middle" font-size="33.5">RMSF (nm)</text></g>
</svg>
</body></html>
